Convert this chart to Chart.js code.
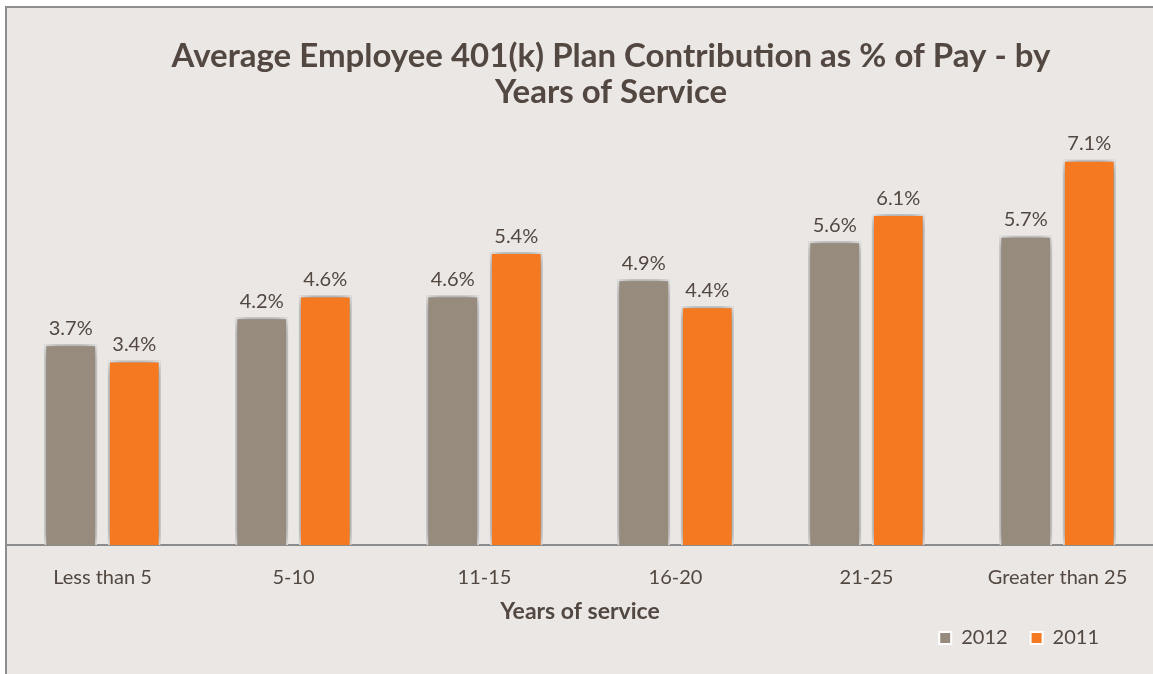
<!DOCTYPE html>
<html>
<head>
<meta charset="utf-8">
<script src="https://cdn.jsdelivr.net/npm/chart.js@4"></script>
<style>
  html, body { margin: 0; padding: 0; background: #ffffff; }
  #frame {
    position: absolute; left: 5px; top: 6px;
    width: 1146px; height: 666px; overflow: hidden;
    border-left: 2px solid #8e8e8e; border-top: 2px solid #8e8e8e;
    background: #ebe7e4;
  }
  #chart { display: block; }
</style>
</head>
<body>
<div id="frame"><canvas id="chart" width="1146" height="667"></canvas></div>
<script>
const categories = ["Less than 5", "5-10", "11-15", "16-20", "21-25", "Greater than 25"];
const seriesNames = ["2012", "2011"];
const values2012 = [3.7, 4.2, 4.6, 4.9, 5.6, 5.7];
const values2011 = [3.4, 4.6, 5.4, 4.4, 6.1, 7.1];

const textColor = "#524841";

// soft shadow behind the bars
const barShadow = {
  id: "barShadow",
  beforeDatasetsDraw(chart) {
    const ctx = chart.ctx;
    ctx.save();
    ctx.shadowColor = "rgba(0,0,0,0.6)";
    ctx.shadowBlur = 14;
  },
  afterDatasetsDraw(chart) {
    chart.ctx.restore();
  }
};

// value labels above each bar
const valueLabels = {
  id: "valueLabels",
  afterDatasetsDraw(chart) {
    const ctx = chart.ctx;
    ctx.save();
    ctx.font = "20px Lato";
    ctx.fillStyle = textColor;
    ctx.textAlign = "center";
    ctx.textBaseline = "middle";
    chart.data.datasets.forEach((ds, i) => {
      chart.getDatasetMeta(i).data.forEach((bar, j) => {
        ctx.fillText(ds.data[j].toFixed(1) + "%", bar.x, bar.y - 16);
      });
    });
    ctx.restore();
  }
};

// nudge title and legend to where the original sits
const nudge = {
  id: "nudge",
  afterLayout(chart) {
    const t = chart.titleBlock;
    t.left += 31; t.right += 31;
    const l = chart.legend;
    l.left -= 31; l.right -= 31;
    l.top -= 17; l.bottom -= 17;
  }
};

new Chart(document.getElementById("chart"), {
  type: "bar",
  data: {
    labels: categories,
    datasets: [
      {
        label: seriesNames[0],
        data: values2012,
        backgroundColor: "#978b7e",
        borderColor: "#ffffff",
        borderWidth: 2,
        borderSkipped: "bottom"
      },
      {
        label: seriesNames[1],
        data: values2011,
        backgroundColor: "#f47920",
        borderColor: "#ffffff",
        borderWidth: 2,
        borderSkipped: "bottom"
      }
    ]
  },
  options: {
    responsive: false,
    animation: false,
    devicePixelRatio: 1,
    categoryPercentage: 0.665,
    barPercentage: 0.83,
    layout: { padding: 0 },
    scales: {
      x: {
        grid: { display: false },
        border: { display: true, color: "#8c8c8c", width: 2 },
        ticks: {
          color: textColor,
          padding: 15,
          font: { family: "Lato", size: 20, lineHeight: 1.0 }
        },
        title: {
          display: true,
          text: "Years of service",
          color: textColor,
          padding: { top: -1, bottom: 0 },
          font: { family: "Lato", size: 23, weight: "bold", lineHeight: 20 / 23 }
        }
      },
      y: {
        display: false,
        min: 0,
        max: 8
      }
    },
    plugins: {
      title: {
        display: true,
        text: ["Average Employee 401(k) Plan Contribution as % of Pay - by", "Years of Service"],
        color: textColor,
        padding: { top: 30, bottom: 1 },
        font: { family: "Lato", size: 33, weight: "bold", lineHeight: 36 / 33 }
      },
      legend: {
        position: "bottom",
        align: "end",
        labels: {
          color: textColor,
          padding: 23,
          boxWidth: 12,
          boxHeight: 12,
          font: { family: "Lato", size: 20 }
        }
      },
      tooltip: { enabled: false }
    }
  },
  plugins: [barShadow, valueLabels, nudge]
});
</script>
</body>
</html>
